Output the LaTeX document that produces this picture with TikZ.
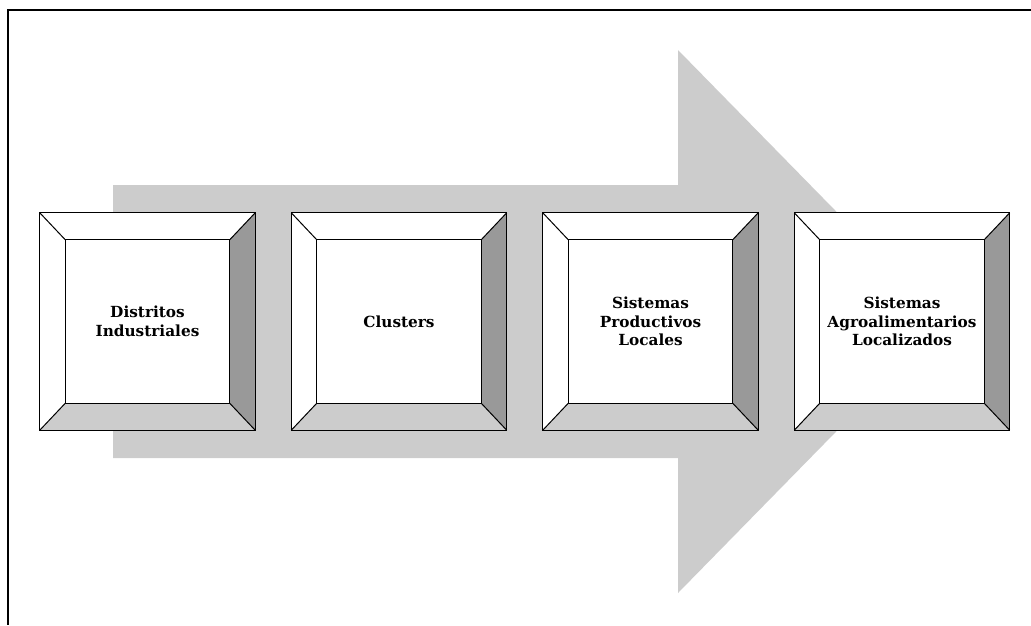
\documentclass[tikz,border=0pt]{standalone}
\usepackage{fontspec}
\setmainfont{DejaVu Serif}
\begin{document}
\begin{tikzpicture}[x=1pt,y=-1pt,
  outerbox/.style={rectangle,minimum width=215pt,minimum height=217pt,inner sep=0pt,draw=none},
  innerbox/.style={rectangle,minimum width=164pt,minimum height=163pt,inner sep=0pt,draw=none,
    align=center,font=\fontsize{15.3}{18.5}\selectfont\bfseries},
  bevelline/.style={draw=black,line width=1pt,line join=miter},
  framerule/.style={draw=black,line width=1.6pt}]
  \useasboundingbox (0,0) rectangle (1031,625);
  % partial frame: top and left rules
  \coordinate (fa) at (1031,10);
  \coordinate (fb) at (8,10);
  \coordinate (fc) at (8,625);
  \draw[framerule] (fa) -- (fb) -- (fc);
  % broad arrow behind the boxes
  \fill[gray!40] (113,185) -- (678,185) -- (678,50) -- (944,321.5)
    -- (678,593) -- (678,458) -- (113,458) -- cycle;
  % bevelled box: #1 name, #2 x centre, #3 text
  \newcommand\bevelframe[3]{%
    \node[outerbox] (#1o) at (#2,321.5) {};
    \node[innerbox] (#1) at (#2,321.5) {#3};
    \fill[white] (#1o.north west) -- (#1o.north east) -- (#1.north east) -- (#1.north west) -- cycle;
    \fill[white] (#1o.north west) -- (#1.north west) -- (#1.south west) -- (#1o.south west) -- cycle;
    \fill[gray!80] (#1o.north east) -- (#1o.south east) -- (#1.south east) -- (#1.north east) -- cycle;
    \fill[gray!40] (#1o.south west) -- (#1o.south east) -- (#1.south east) -- (#1.south west) -- cycle;
    \fill[white] (#1.north west) rectangle (#1.south east);
    \draw[bevelline] (#1o.north west) rectangle (#1o.south east);
    \draw[bevelline] (#1.north west) rectangle (#1.south east);
    \draw[bevelline] (#1o.north west) -- (#1.north west);
    \draw[bevelline] (#1o.north east) -- (#1.north east);
    \draw[bevelline] (#1o.south west) -- (#1.south west);
    \draw[bevelline] (#1o.south east) -- (#1.south east);
    \node[innerbox] at (#1.center) {#3};
  }
  \bevelframe{distritos}{147.5}{Distritos\\Industriales}
  \bevelframe{clusters}{399}{Clusters}
  \bevelframe{spl}{650.5}{Sistemas\\Productivos\\Locales}
  \bevelframe{sial}{902}{Sistemas\\Agroalimentarios\\Localizados}
\end{tikzpicture}
\end{document}
